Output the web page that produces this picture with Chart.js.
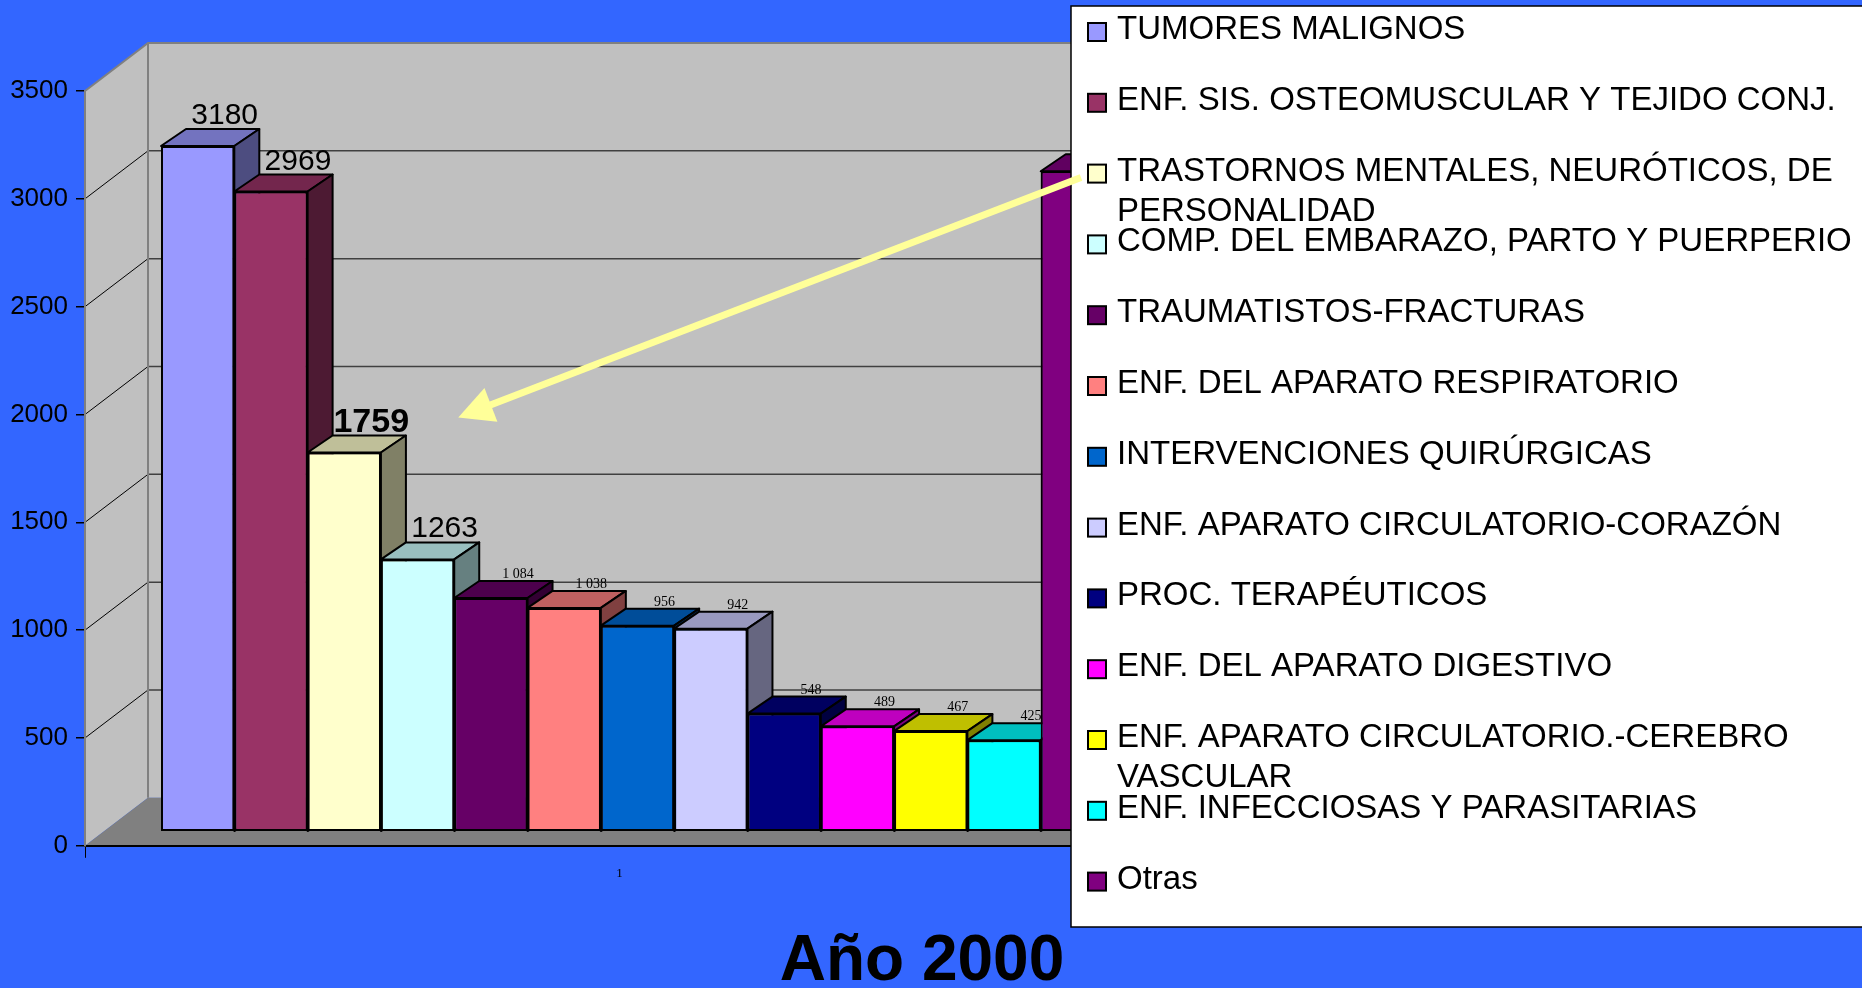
<!DOCTYPE html>
<html>
<head>
<meta charset="utf-8">
<script src="https://cdn.jsdelivr.net/npm/chart.js@4.4.0/dist/chart.umd.min.js"></script>
<style>
  html, body { margin: 0; padding: 0; background: #3366FF; }
  #wrap { position: relative; width: 1862px; height: 988px; }
</style>
</head>
<body>
<div id="wrap"><canvas id="myChart"></canvas></div>
<script>
// --- data ---
const categories = ['1'];
const seriesNames = [
  'TUMORES MALIGNOS',
  'ENF. SIS. OSTEOMUSCULAR Y TEJIDO CONJ.',
  ['TRASTORNOS MENTALES, NEURÓTICOS, DE', 'PERSONALIDAD'],
  'COMP. DEL EMBARAZO, PARTO Y PUERPERIO',
  'TRAUMATISTOS-FRACTURAS',
  'ENF. DEL APARATO RESPIRATORIO',
  'INTERVENCIONES QUIRÚRGICAS',
  'ENF. APARATO CIRCULATORIO-CORAZÓN',
  'PROC. TERAPÉUTICOS',
  'ENF. DEL APARATO DIGESTIVO',
  ['ENF. APARATO CIRCULATORIO.-CEREBRO', 'VASCULAR'],
  'ENF. INFECCIOSAS Y PARASITARIAS',
  'Otras'
];
const seriesValues = [3180, 2969, 1759, 1263, 1084, 1038, 956, 942, 548, 489, 467, 425, 3063];
const valueLabels = ['3180', '2969', '1759', '1263', '1 084', '1 038', '956', '942', '548', '489', '467', '425', '3063'];
const labelKinds = ['large', 'large', 'bold', 'large', 'small', 'small', 'small', 'small', 'small', 'small', 'small', 'small', 'small'];
const seriesColors = ['#9999FF', '#993366', '#FFFFCC', '#CCFFFF', '#660066', '#FF8080', '#0066CC',
                      '#CCCCFF', '#000080', '#FF00FF', '#FFFF00', '#00FFFF', '#800080'];
const yMax = 3500;
const yStep = 500;
const titleText = 'Año 2000';

// --- 3d look ---
const WALL_DEPTH = { x: 63, y: -48 };
const BAR_SHIFT = { x: 18, y: -14 };
const BAR_DEPTH = { x: 25, y: -17 };
const LEGEND_BOX = { x: 1071, y: 6, w: 800, h: 921 };
const LEGEND_ROW = { first: 30, step: 70.8, line: 40, markerX: 1088, textX: 1117 };
const labelFonts = {
  large: '30px "Liberation Sans"',
  bold: 'bold 34px "Liberation Sans"',
  small: '14px "Liberation Serif"'
};
const labelLift = { large: 5, bold: 3, small: 3 };

function shade(hex, f) {
  const n = parseInt(hex.slice(1), 16);
  const r = Math.round(((n >> 16) & 255) * f);
  const g = Math.round(((n >> 8) & 255) * f);
  const b = Math.round((n & 255) * f);
  return `rgb(${r},${g},${b})`;
}

function poly(ctx, pts) {
  ctx.beginPath();
  ctx.moveTo(pts[0][0], pts[0][1]);
  for (let i = 1; i < pts.length; i++) ctx.lineTo(pts[i][0], pts[i][1]);
  ctx.closePath();
}

const wallsPlugin = {
  id: 'walls',
  beforeDraw(chart) {
    const { ctx, chartArea: a, scales: { y } } = chart;
    const y0 = y.getPixelForValue(0);
    const yTop = y.getPixelForValue(yMax);
    const bx = a.left + WALL_DEPTH.x;
    const dy = WALL_DEPTH.y;
    ctx.save();
    ctx.fillStyle = '#C0C0C0';
    ctx.fillRect(bx, yTop + dy, a.right - a.left, y0 - yTop);
    poly(ctx, [[a.left, yTop], [bx, yTop + dy], [bx, y0 + dy], [a.left, y0]]);
    ctx.fill();
    ctx.fillStyle = '#808080';
    poly(ctx, [[a.left, y0], [a.right, y0], [a.right + WALL_DEPTH.x, y0 + dy], [bx, y0 + dy]]);
    ctx.fill();

    y.ticks.forEach(t => {
      if (t.value === 0 || t.value === yMax) return;
      const py = y.getPixelForValue(t.value);
      ctx.lineWidth = 1;
      ctx.strokeStyle = '#000';
      ctx.beginPath();
      ctx.moveTo(a.left, py);
      ctx.lineTo(bx, py + dy);
      ctx.stroke();
      ctx.strokeStyle = '#404040';
      ctx.lineWidth = 1.5;
      ctx.beginPath();
      ctx.moveTo(bx, py + dy);
      ctx.lineTo(a.right + WALL_DEPTH.x, py + dy);
      ctx.stroke();
    });

    ctx.strokeStyle = '#808080';
    ctx.lineWidth = 2;
    ctx.beginPath();
    ctx.moveTo(a.left, yTop);
    ctx.lineTo(bx, yTop + dy);
    ctx.lineTo(a.right + WALL_DEPTH.x, yTop + dy);
    ctx.moveTo(bx, yTop + dy);
    ctx.lineTo(bx, y0 + dy);
    ctx.stroke();
    ctx.restore();
  }
};

const bars3dPlugin = {
  id: 'bars3d',
  beforeDatasetsDraw(chart) {
    chart.ctx.save();
    chart.ctx.translate(BAR_SHIFT.x, BAR_SHIFT.y);
  },
  afterDatasetsDraw(chart) {
    const ctx = chart.ctx;
    const dx = BAR_DEPTH.x, dy = BAR_DEPTH.y;
    const tops = [];
    chart.data.datasets.forEach((ds, i) => {
      const el = chart.getDatasetMeta(i).data[0];
      const { x, y, base, width } = el.getProps(['x', 'y', 'base', 'width'], true);
      el.draw(ctx);
      const l = x - width / 2, r = x + width / 2;
      ctx.lineWidth = 2;
      ctx.strokeStyle = '#000';
      ctx.lineJoin = 'round';
      poly(ctx, [[l, y], [r, y], [r + dx, y + dy], [l + dx, y + dy]]);
      ctx.fillStyle = shade(ds.backgroundColor, 0.75);
      ctx.fill();
      ctx.stroke();
      poly(ctx, [[r, y], [r + dx, y + dy], [r + dx, base + dy], [r, base]]);
      ctx.fillStyle = shade(ds.backgroundColor, 0.5);
      ctx.fill();
      ctx.stroke();
      tops.push({ x, y });
    });
    ctx.fillStyle = '#000';
    ctx.textAlign = 'center';
    ctx.textBaseline = 'alphabetic';
    tops.forEach((p, i) => {
      const kind = labelKinds[i];
      ctx.font = labelFonts[kind];
      ctx.fillText(valueLabels[i], p.x + 27, p.y + dy - labelLift[kind]);
    });
    ctx.restore();
  }
};

const legendBoxPlugin = {
  id: 'legendBox',
  afterDraw(chart) {
    const ctx = chart.ctx;
    ctx.save();
    ctx.fillStyle = '#FFFFFF';
    ctx.fillRect(LEGEND_BOX.x, LEGEND_BOX.y, LEGEND_BOX.w, LEGEND_BOX.h);
    ctx.strokeStyle = '#000';
    ctx.lineWidth = 1.5;
    ctx.strokeRect(LEGEND_BOX.x, LEGEND_BOX.y, LEGEND_BOX.w, LEGEND_BOX.h);
    ctx.font = '33px "Liberation Sans"';
    ctx.textBaseline = 'middle';
    ctx.textAlign = 'left';
    chart.data.datasets.forEach((ds, i) => {
      const cy = LEGEND_ROW.first + LEGEND_ROW.step * i;
      ctx.fillStyle = ds.backgroundColor;
      ctx.fillRect(LEGEND_ROW.markerX, cy - 7, 18, 18);
      ctx.lineWidth = 2;
      ctx.strokeStyle = '#000';
      ctx.strokeRect(LEGEND_ROW.markerX, cy - 7, 18, 18);
      ctx.fillStyle = '#000';
      [].concat(seriesNames[i]).forEach((line, k) => {
        ctx.fillText(line, LEGEND_ROW.textX, cy + k * LEGEND_ROW.line);
      });
    });

    // yellow arrow from the TRASTORNOS legend entry to its bar
    const el = chart.getDatasetMeta(2).data[0];
    const tip = { x: el.x + BAR_SHIFT.x + 114, y: el.y + BAR_SHIFT.y - 35 };
    const start = { x: LEGEND_ROW.markerX - 7, y: LEGEND_ROW.first + LEGEND_ROW.step * 2 + 6 };
    const vx = tip.x - start.x, vy = tip.y - start.y;
    const len = Math.hypot(vx, vy);
    const ux = vx / len, uy = vy / len;
    const headLen = 35, headHalf = 18;
    const bmx = tip.x - ux * headLen, bmy = tip.y - uy * headLen;
    ctx.strokeStyle = '#FFFF99';
    ctx.fillStyle = '#FFFF99';
    ctx.lineWidth = 7;
    ctx.beginPath();
    ctx.moveTo(start.x, start.y);
    ctx.lineTo(bmx + ux * 2, bmy + uy * 2);
    ctx.stroke();
    poly(ctx, [[tip.x, tip.y], [bmx - uy * headHalf, bmy + ux * headHalf], [bmx + uy * headHalf, bmy - ux * headHalf]]);
    ctx.fill();
    ctx.restore();
  }
};

const ctx = document.getElementById('myChart');
const myChart = new Chart(ctx, {
  type: 'bar',
  data: {
    labels: categories,
    datasets: seriesValues.map((v, i) => ({
      label: [].concat(seriesNames[i]).join(' '),
      data: [v],
      backgroundColor: seriesColors[i],
      borderColor: '#000000',
      borderWidth: 2,
      borderSkipped: false,
      categoryPercentage: 0.8915,
      barPercentage: 1.0
    }))
  },
  options: {
    responsive: true,
    maintainAspectRatio: false,
    animation: false,
    layout: { padding: { left: 0, right: 18, top: 91, bottom: 0 } },
    plugins: {
      legend: { display: false },
      tooltip: { enabled: false },
      title: {
        display: true,
        text: titleText,
        position: 'bottom',
        color: '#000000',
        padding: { top: 8, bottom: 0 },
        font: { family: 'Liberation Sans', size: 64, weight: 'bold', lineHeight: 0.8 }
      }
    },
    scales: {
      x: {
        ticks: { color: '#000', font: { family: 'Liberation Serif', size: 13 }, padding: 8 },
        grid: { drawOnChartArea: false, tickLength: 12, color: '#000', lineWidth: 1 },
        border: { color: '#000', width: 2 },
        afterFit(s) { s.height = 83; }
      },
      y: {
        min: 0,
        max: yMax,
        ticks: {
          stepSize: yStep,
          color: '#000',
          font: { family: 'Liberation Sans', size: 26 },
          padding: 8,
          callback: v => String(v)
        },
        grid: { drawOnChartArea: false, tickLength: 9, color: '#000', lineWidth: 1.5 },
        border: { color: '#808080', width: 2 },
        afterFit(s) { s.width = 85; }
      },
      pad: {
        type: 'linear',
        position: 'right',
        display: true,
        grid: { display: false },
        border: { display: false },
        ticks: { display: false },
        afterFit(s) { s.width = 690; }
      }
    }
  },
  plugins: [wallsPlugin, bars3dPlugin, legendBoxPlugin]
});
</script>
</body>
</html>
